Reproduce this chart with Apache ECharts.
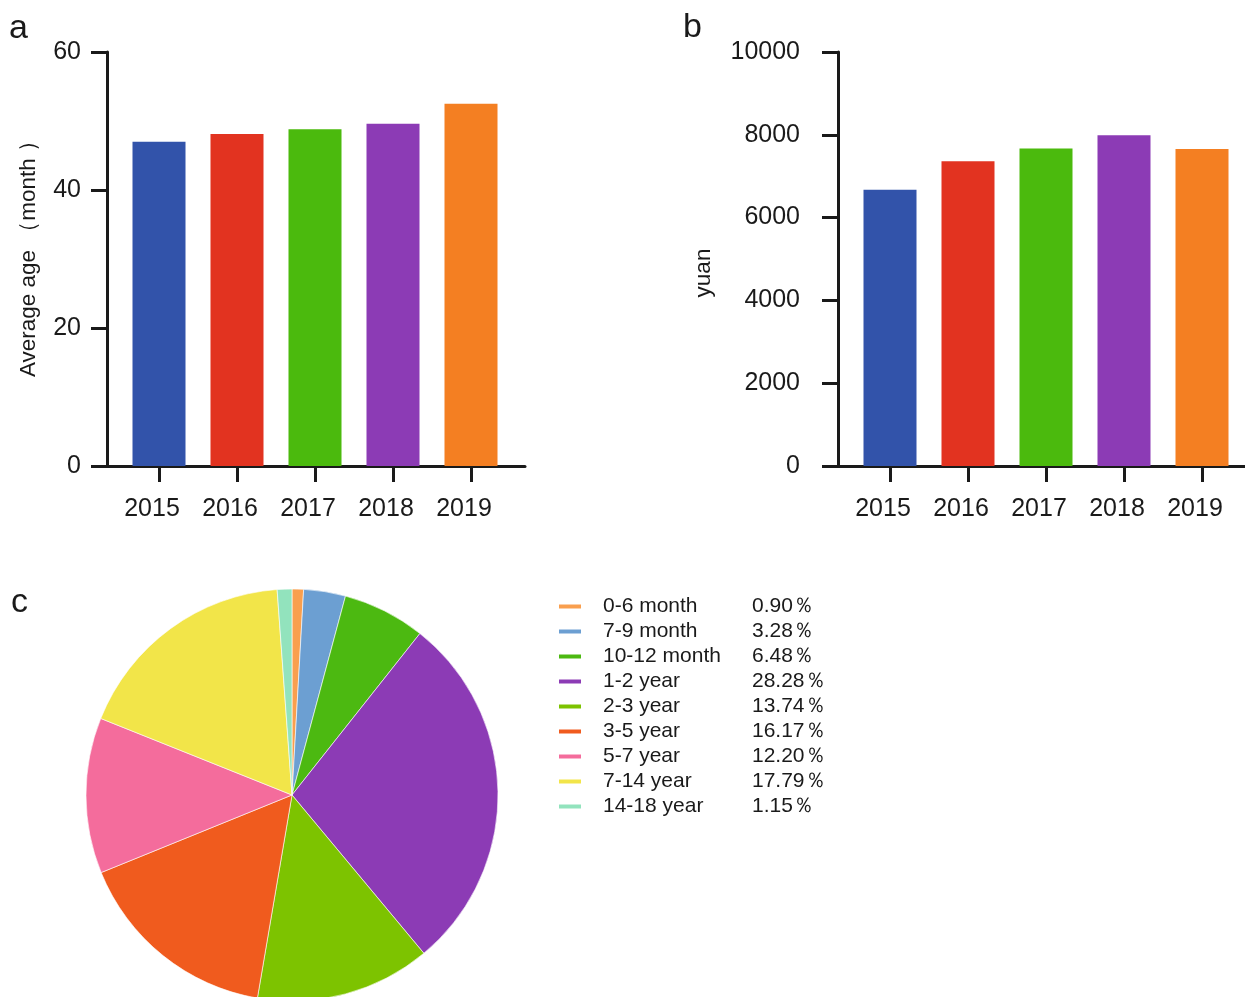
<!DOCTYPE html>
<html>
<head>
<meta charset="utf-8">
<script src="https://cdn.jsdelivr.net/npm/echarts@6/dist/echarts.min.js"></script>
<style>
  html, body { margin: 0; padding: 0; background: #fff; }
  #chart { width: 1245px; height: 997px; }
</style>
</head>
<body>
<div id="chart"></div>
<script>
// Survey years shared by both bar panels
const years = ['2015', '2016', '2017', '2018', '2019'];
// Panel a: average age (months) per year
const avgAgeMonths = [47.0, 48.1, 48.8, 49.6, 52.5];
// Panel b: average cost (yuan) per year
const costYuan = [6670, 7360, 7670, 7990, 7660];
// Bar colours per year
const yearColors = ['#3253AA', '#E23320', '#4BBA0D', '#8C3BB5', '#F47F22'];

// Panel c: age group shares (%)
const ageGroups = ['0-6 month', '7-9 month', '10-12 month', '1-2 year', '2-3 year',
                   '3-5 year', '5-7 year', '7-14 year', '14-18 year'];
const ageShares = [0.90, 3.28, 6.48, 28.28, 13.74, 16.17, 12.20, 17.79, 1.15];
const ageColors = ['#F99F4E', '#6C9FD2', '#4CB911', '#8C3BB5', '#7DC300',
                   '#F05B1E', '#F46C9C', '#F2E549', '#92E3BD'];

const FONT = '"Liberation Sans", Arial, Helvetica, sans-serif';
const INK = '#1a1a1a';
const yearIdx = years.map((_, i) => i);

function barData(values) {
  return values.map((v, i) => ({ value: [i, v], itemStyle: { color: yearColors[i] } }));
}

function xAxisFor(gridIndex, max) {
  return {
    type: 'value', gridIndex: gridIndex, min: -2 / 3, max: max,
    splitLine: { show: false },
    axisLine: { show: true, onZero: false, lineStyle: { color: INK, width: 3 } },
    axisTick: { show: true, customValues: yearIdx, length: 16, lineStyle: { color: INK, width: 3 } },
    axisLabel: {
      customValues: yearIdx, margin: 31, fontSize: 25, color: INK, fontFamily: FONT,
      padding: [0, 14, 0, 0],
      formatter: v => years[Math.round(v)]
    }
  };
}

function yAxisFor(gridIndex, max, interval, name, nameGap, labelMargin, namePad) {
  return {
    type: 'value', gridIndex: gridIndex, min: 0, max: max, interval: interval,
    name: name, nameLocation: 'middle', nameGap: nameGap, nameRotate: 90,
    nameTextStyle: { fontSize: 22.5, color: INK, fontFamily: FONT, padding: namePad },
    splitLine: { show: false },
    axisLine: { show: true, onZero: false, lineStyle: { color: INK, width: 3 } },
    axisTick: { show: true, length: 16, lineStyle: { color: INK, width: 3 } },
    axisLabel: {
      margin: labelMargin, fontSize: 25, color: INK, fontFamily: FONT,
      formatter: v => String(v)
    }
  };
}

const option = {
  backgroundColor: '#fff',
  animation: false,
  title: [
    { text: 'a', left: 9, top: 12, padding: 0, textStyle: { fontSize: 34, fontWeight: 'normal', color: INK, fontFamily: FONT } },
    { text: 'b', left: 683, top: 11, padding: 0, textStyle: { fontSize: 34, fontWeight: 'normal', color: INK, fontFamily: FONT } },
    { text: 'c', left: 11, top: 586, padding: 0, textStyle: { fontSize: 34, fontWeight: 'normal', color: INK, fontFamily: FONT } }
  ],
  grid: [
    { left: 107, top: 52, width: 418, height: 414 },
    { left: 838, top: 52, width: 407, height: 414 }
  ],
  xAxis: [
    xAxisFor(0, -2 / 3 + 418 / 78),
    xAxisFor(1, -2 / 3 + 407 / 78)
  ],
  yAxis: [
    yAxisFor(0, 60, 20, 'Average age （month ）', 67, 26, [0, 0, 0, 12]),
    yAxisFor(1, 10000, 2000, 'yuan', 123, 38, [0, 28, 0, 0])
  ],
  legend: {
    orient: 'vertical', left: 557, top: 596, padding: 0,
    itemWidth: 24, itemHeight: 6, itemGap: 4, icon: 'rect',
    data: ageGroups,
    formatter: name => {
      const v = ageShares[ageGroups.indexOf(name)];
      return '{n|' + name + '}{v|' + v.toFixed(2) + '％}';
    },
    textStyle: {
      fontSize: 21, color: INK, fontFamily: FONT, padding: [0, 0, 0, 16],
      rich: {
        n: { width: 149, fontSize: 21, color: INK, fontFamily: FONT },
        v: { fontSize: 21, color: INK, fontFamily: FONT }
      }
    }
  },
  series: [
    {
      type: 'bar', xAxisIndex: 0, yAxisIndex: 0, barWidth: 53,
      data: barData(avgAgeMonths)
    },
    {
      type: 'bar', xAxisIndex: 1, yAxisIndex: 1, barWidth: 53,
      data: barData(costYuan)
    },
    {
      type: 'pie', center: [292, 795], radius: 206, startAngle: 90, clockwise: true,
      label: { show: false }, labelLine: { show: false },
      itemStyle: { borderColor: '#fff', borderWidth: 0.6 },
      emphasis: { disabled: true },
      data: ageGroups.map((g, i) => ({ name: g, value: ageShares[i], itemStyle: { color: ageColors[i] } }))
    }
  ]
};

const chart = echarts.init(document.getElementById('chart'), null, { renderer: 'canvas' });
chart.setOption(option);
</script>
</body>
</html>
